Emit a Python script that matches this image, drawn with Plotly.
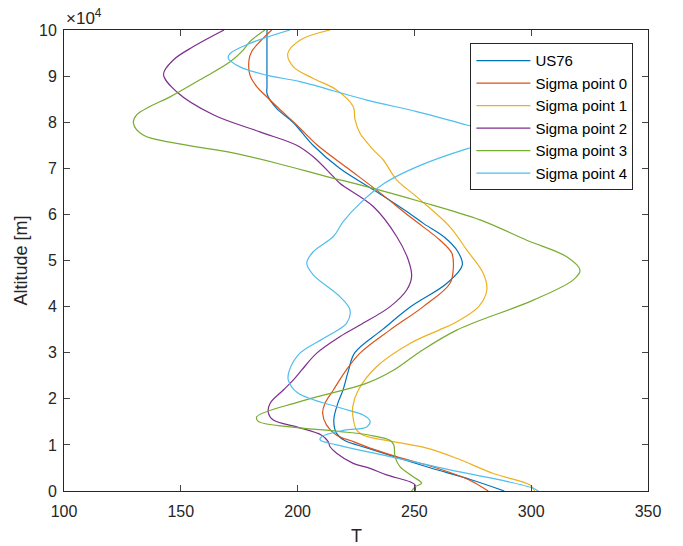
import plotly.graph_objects as go

# Temperature profiles: altitude [m] and temperature [K]
us76_alt = [0, 2500, 5000, 7500, 9300, 11000, 12500, 15400, 19000, 22000, 26000, 30000,
            35000, 40000, 45000, 49000, 52000, 55000, 58000, 60000, 65000, 70000,
            75000, 80000, 83000, 86000, 88000, 100000]
us76_T = [288.5, 274.0, 257.0, 241.0, 230.0, 220.0, 216.7, 215.5, 217.2, 219.5, 221.7, 224.5,
          236.3, 248.5, 263.8, 270.5, 268.5, 263.0, 254.0, 248.5, 233.5, 218.0,
          206.6, 198.0, 191.0, 187.0, 186.9, 186.9]

sp0_alt = [0, 2400, 5000, 7500, 9300, 10700, 12100, 14300, 16900, 19000, 21900, 26200, 29900,
           34900, 40000, 45000, 48700, 51600, 54400, 59200, 65000, 70000, 75000, 79400,
           83400, 85900, 87700, 90200, 93500, 95300, 97500, 100000]
sp0_T = [281.6, 273.5, 259.5, 242.0, 231.0, 223.9, 216.7, 212.4, 210.7, 211.7, 215.3, 220.8,
         226.7, 239.5, 253.8, 265.2, 266.7, 266.0, 261.0, 248.8, 234.5, 221.5, 208.5, 199.6,
         191.1, 186.0, 182.5, 179.6, 179.2, 180.3, 183.9, 188.9]

sp1_alt = [0, 1300, 3800, 7100, 9300, 10700, 12100, 13200, 15400, 18300, 21900, 27000, 32000,
           34900, 36400, 40000, 43600, 47200, 52300, 57300, 63800, 67500, 71800, 74000, 76100,
           77600, 80500, 83400, 87000, 89500, 92000, 94900, 97800, 100000]
sp1_T = [301.5, 299.5, 283.8, 268.1, 255.3, 241.0, 228.1, 225.3, 223.9, 223.6, 226.0, 233.9,
         248.1, 260.5, 267.0, 277.5, 281.0, 279.5, 272.4, 265.2, 251.0, 242.4, 236.7, 232.4,
         228.9, 226.7, 224.6, 223.8, 216.7, 206.7, 198.2, 195.8, 201.0, 213.9]

sp2_alt = [0, 1300, 2000, 3500, 4900, 6000, 8200, 9600, 10700, 12100, 13900, 15400, 16900,
           19000, 21900, 24100, 26200, 29900, 33500, 36000, 40000, 43600, 46500, 50100, 55200,
           61700, 66700, 68200, 72500, 75000, 77900, 81600, 86600, 90400, 93500, 96400, 100000]
sp2_T = [250.3, 250.3, 248.1, 238.1, 231.0, 223.8, 216.7, 213.9, 213.1, 210.3, 199.6, 189.6,
         187.5, 188.2, 193.9, 198.2, 201.7, 208.2, 218.2, 226.7, 239.6, 246.7, 248.8, 247.4,
         242.4, 232.4, 218.2, 215.3, 206.7, 199.6, 183.9, 163.9, 148.2, 142.6, 146.8, 155.4,
         168.5]

sp3_alt = [0, 900, 1700, 3100, 5300, 7400, 10000, 11000, 12100, 12900, 13900, 15100, 16100,
           19400, 23400, 26200, 30000, 34900, 41400, 45800, 47900, 50800, 54400,
           58800, 62800, 66400, 68200, 71100, 73600, 75400, 77200, 79800, 81600, 83400, 85500,
           89200, 93100, 95700, 97500, 100000]
sp3_T = [248.8, 250.3, 253.1, 249.5, 243.8, 241.7, 241.2, 239.5, 231.0, 218.2, 196.7, 183.2,
         182.5, 201.0, 229.6, 241.0, 251.8, 268.1, 300.9, 318.0, 320.9, 315.2,
         298.1, 278.1, 252.4, 226.7, 212.5, 191.1, 169.6, 148.2, 133.9, 129.7, 131.1, 136.8,
         145.4, 158.2, 171.1, 176.8, 179.6, 186.0]

sp4_alt = [0, 600, 2400, 4600, 7800, 10000, 11100, 11800, 13200, 13900, 15200, 16500, 18000,
           21300, 24100, 26200, 29900, 33500, 36400, 39300, 42100, 46900, 49400, 51900, 55200,
           58500, 62400, 66700, 70300, 74200, 76800, 79400, 82300, 84800, 88800, 90200,
           92000, 93900, 94900, 97100, 100000]
sp4_T = [303.0, 300.9, 286.6, 265.2, 236.7, 216.7, 209.6, 210.3, 220.0, 229.6, 231.0, 228.1,
         218.5, 200.0, 196.0, 196.5, 201.0, 212.5, 221.0, 222.4, 218.2, 206.7, 203.9, 206.7,
         215.3, 219.6, 226.7, 237.0, 251.0, 272.4, 292.0, 272.4, 251.0, 229.6, 201.0,
         186.8, 175.3, 170.3, 171.1, 179.6, 196.7]

series = [
    ("US76", us76_T, us76_alt, "#0072BD"),
    ("Sigma point 0", sp0_T, sp0_alt, "#D95319"),
    ("Sigma point 1", sp1_T, sp1_alt, "#EDB120"),
    ("Sigma point 2", sp2_T, sp2_alt, "#7E2F8E"),
    ("Sigma point 3", sp3_T, sp3_alt, "#77AC30"),
    ("Sigma point 4", sp4_T, sp4_alt, "#4DBEEE"),
]

x_ticks = [100, 150, 200, 250, 300, 350]
y_ticks = [0, 10000, 20000, 30000, 40000, 50000, 60000, 70000, 80000, 90000, 100000]
y_ticktext = ["0", "1", "2", "3", "4", "5", "6", "7", "8", "9", "10"]

fig = go.Figure()
for name, T, alt, color in series:
    fig.add_trace(go.Scatter(
        x=T, y=alt, name=name, mode="lines",
        line=dict(color=color, width=1.2, shape="spline", smoothing=1.0),
    ))

axis_color = "#262626"
font_family = "Liberation Sans, Arial, sans-serif"

fig.update_layout(
    width=683, height=546,
    margin=dict(l=64, r=35, t=30, b=55, autoexpand=False),
    paper_bgcolor="white", plot_bgcolor="white",
    font=dict(family=font_family, size=16, color=axis_color),
    showlegend=True,
    legend=dict(
        x=0.975, y=0.971, xanchor="right", yanchor="top",
        bgcolor="white", bordercolor=axis_color, borderwidth=1,
        font=dict(size=15, color="black"), itemwidth=54,
        tracegroupgap=0,
    ),
    xaxis=dict(
        range=[100, 350], tickvals=x_ticks, ticks="inside", ticklen=6,
        showline=True, linecolor=axis_color, linewidth=1, mirror="ticks",
        showgrid=False, zeroline=False, tickfont=dict(size=16),
        ticklabelstandoff=6, automargin=False,
    ),
    yaxis=dict(
        range=[0, 100000], tickvals=y_ticks, ticktext=y_ticktext,
        ticks="inside", ticklen=6,
        showline=True, linecolor=axis_color, linewidth=1, mirror="ticks",
        showgrid=False, zeroline=False, tickfont=dict(size=16),
        ticklabelstandoff=3, automargin=False,
    ),
    annotations=[
        dict(text="×10<sup>4</sup>", xref="paper", yref="paper", x=0.0, y=1.0,
             xanchor="left", yanchor="bottom", showarrow=False,
             font=dict(size=17, color=axis_color)),
        dict(text="T", xref="paper", yref="paper", x=0.5, y=0, yshift=-33,
             xanchor="center", yanchor="top", showarrow=False,
             font=dict(size=18, color=axis_color)),
        dict(text="Altitude [m]", xref="paper", yref="paper", x=0, y=0.5, xshift=-32,
             xanchor="right", yanchor="middle", textangle=-90, showarrow=False,
             font=dict(size=18, color=axis_color)),
    ],
)

fig.write_html("out.html")
